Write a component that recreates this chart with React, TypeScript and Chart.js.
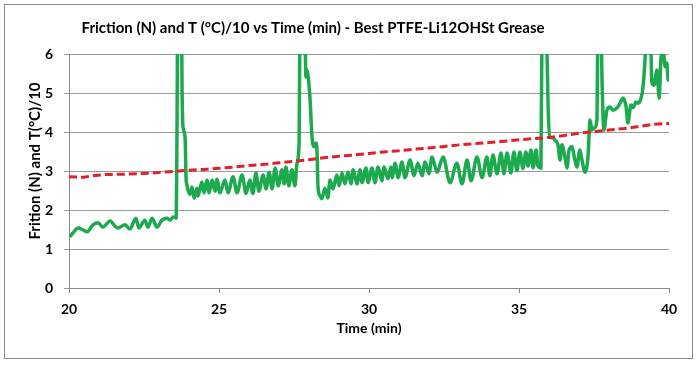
import React, { useEffect, useRef } from "react";
import { Chart, registerables } from "chart.js";

Chart.register(...registerables);

const chartTitle = "Friction (N) and T (°C)/10 vs Time (min) - Best PTFE-Li12OHSt Grease";
const xTitle = "Time (min)";
const yTitle = "Frition (N) and T(°C)/10";

// Friction (N) series
const frictionTime = [
  20.03, 20.13, 20.3, 20.47, 20.6, 20.8, 20.97, 21.13, 21.37, 21.53, 21.63, 21.87, 22.03, 22.23, 22.33, 22.53,
  22.63, 22.77, 22.93, 23.1, 23.27, 23.37, 23.47, 23.57, 23.6, 23.63, 23.73, 23.77, 23.8, 23.87, 23.9,
  23.93, 24.03, 24.1, 24.17, 24.27, 24.3, 24.43, 24.5, 24.6, 24.67, 24.77, 24.87, 24.93, 25.03, 25.2, 25.3,
  25.47, 25.6, 25.77, 25.9, 26.03, 26.13, 26.23, 26.33, 26.47, 26.57, 26.67, 26.77, 26.87, 26.97, 27.1, 27.17,
  27.23, 27.33, 27.43, 27.53, 27.6, 27.67, 27.7, 27.8, 27.87, 27.9, 27.93, 28.03, 28.1, 28.17, 28.23, 28.27, 28.3,
  28.37, 28.43, 28.53, 28.63, 28.7, 28.8, 28.93, 29.0, 29.1, 29.2, 29.3, 29.4, 29.47, 29.6, 29.7, 29.77, 29.9,
  29.97, 30.1, 30.2, 30.3, 30.43, 30.5, 30.63, 30.73, 30.77, 30.87, 30.97, 31.1, 31.2, 31.37, 31.5, 31.63,
  31.77, 31.87, 32.0, 32.1, 32.27, 32.47, 32.7, 32.93, 33.1, 33.27, 33.4, 33.6, 33.77, 33.93, 34.03, 34.13,
  34.27, 34.4, 34.5, 34.6, 34.73, 34.83, 34.93, 35.03, 35.13, 35.23, 35.3, 35.4, 35.47, 35.57, 35.63, 35.73,
  35.77, 35.87, 35.93, 35.97, 36.03, 36.13, 36.2, 36.3, 36.37, 36.43, 36.53, 36.6, 36.67, 36.77, 36.83, 36.93,
  37.03, 37.1, 37.2, 37.3, 37.37, 37.43, 37.5, 37.6, 37.63, 37.7, 37.77, 37.83, 37.93, 38.03, 38.13, 38.27,
  38.37, 38.47, 38.57, 38.63, 38.73, 38.8, 38.9, 38.97, 39.07, 39.13, 39.2, 39.27, 39.37, 39.43, 39.5, 39.6,
  39.67, 39.73, 39.8, 39.87, 39.93, 39.97, 40.0,
];
const frictionValue = [
  1.31, 1.41, 1.54, 1.49, 1.44, 1.62, 1.67, 1.56, 1.72, 1.59, 1.54, 1.62, 1.51, 1.79, 1.54, 1.74,
  1.56, 1.79, 1.56, 1.74, 1.79, 1.74, 1.82, 1.79, 4.0, 8.0, 8.5, 5.0, 4.13, 3.87, 2.85,
  2.64, 2.4, 2.59, 2.3, 2.56, 2.36, 2.72, 2.44, 2.77, 2.44, 2.77, 2.48, 2.79, 2.44, 2.77, 2.44,
  2.85, 2.44, 2.9, 2.42, 2.77, 2.42, 2.95, 2.48, 2.9, 2.54, 2.97, 2.54, 3.08, 2.62, 3.03, 2.67,
  3.1, 2.62, 3.03, 2.62, 3.2, 3.72, 7.0, 8.0, 6.3, 5.41, 5.59, 4.9, 3.87, 3.62, 3.72, 3.46, 2.59,
  2.36, 2.29, 2.56, 2.31, 2.77, 2.54, 2.9, 2.62, 2.95, 2.67, 2.97, 2.67, 3.03, 2.67, 3.03, 2.7, 3.08,
  2.7, 3.08, 2.7, 3.1, 2.75, 3.1, 2.8, 3.1, 2.83, 3.2, 2.83, 3.23, 2.83, 3.28, 2.88, 3.2,
  2.88, 3.23, 2.93, 3.36, 2.97, 3.36, 2.7, 3.2, 2.67, 3.28, 2.75, 3.36, 2.83, 3.36, 2.88, 3.41,
  2.93, 3.46, 2.93, 3.46, 2.95, 3.49, 3.01, 3.49, 3.06, 3.49, 3.13, 3.54, 3.08, 3.54, 3.13, 3.08,
  7.0, 8.0, 6.2, 4.64, 3.87, 3.85, 3.79, 3.67, 3.28, 3.67, 3.36, 3.08, 3.54, 3.62, 3.41, 3.1,
  3.54, 3.28, 2.97, 3.36, 4.31, 4.05, 4.1, 4.31, 7.0, 8.0, 5.26, 4.05, 4.56, 4.64, 4.56, 4.62,
  4.74, 4.87, 4.64, 4.23, 4.69, 4.62, 4.77, 4.74, 4.87, 5.13, 5.85, 7.0, 7.0, 5.26, 5.2, 5.59,
  4.87, 5.85, 6.2, 5.67, 5.77, 5.33, 5.6,
];

// Temperature (°C)/10 series
const tempTime = [
  20.0, 20.5, 20.8, 21.2, 22.0, 22.8, 23.5, 24.0, 24.5, 25.0, 25.5, 26.0, 26.5, 27.0, 27.5, 28.0, 28.5, 29.0,
  29.5, 30.0, 30.5, 31.0, 31.5, 32.0, 32.5, 33.0, 33.5, 34.0, 34.5, 35.0, 35.5, 36.0, 36.5, 37.0, 37.5, 38.0,
  38.5, 39.0, 39.5, 40.0,
];
const tempValue = [
  2.85, 2.84, 2.88, 2.91, 2.92, 2.95, 2.99, 3.02, 3.04, 3.07, 3.1, 3.14, 3.17, 3.21, 3.25, 3.29, 3.34, 3.38,
  3.41, 3.45, 3.49, 3.52, 3.56, 3.59, 3.63, 3.67, 3.7, 3.73, 3.76, 3.8, 3.83, 3.86, 3.91, 3.97, 4.01, 4.05,
  4.09, 4.14, 4.2, 4.22,
];

const FONT = "Lato, 'Open Sans', sans-serif";

const decorPlugin = {
  id: "decor",
  beforeDraw(chart: any) {
    const { ctx, width, height } = chart;
    ctx.save();
    ctx.fillStyle = "#ffffff";
    ctx.fillRect(0, 0, width, height);
    ctx.strokeStyle = "#8a8a8a";
    ctx.lineWidth = 1;
    ctx.strokeRect(4.5, 4.5, 688, 354);
    ctx.restore();
  },
  afterDraw(chart: any) {
    const { ctx, chartArea } = chart;
    ctx.save();
    ctx.fillStyle = "#000000";
    ctx.font = `bold 15px ${FONT}`;
    ctx.textAlign = "center";
    ctx.textBaseline = "middle";
    ctx.fillText(chartTitle, 313, 28);
    ctx.translate(35, (chartArea.top + chartArea.bottom) / 2 - 10);
    ctx.rotate(-Math.PI / 2);
    ctx.fillText(yTitle, 0, 0);
    ctx.restore();
  },
};

export default function App() {
  const ref = useRef<HTMLCanvasElement | null>(null);

  useEffect(() => {
    document.body.style.margin = "0";
    const canvas = ref.current!;
    const chart = new Chart(canvas, {
      type: "line",
      data: {
        datasets: [
          {
            label: "Friction (N)",
            data: frictionTime.map((t, i) => ({ x: t, y: frictionValue[i] })),
            borderColor: "#1daa4f",
            borderWidth: 3.5,
            pointRadius: 0,
            fill: false,
            cubicInterpolationMode: "monotone",
            order: 2,
          },
          {
            label: "T (°C)/10",
            data: tempTime.map((t, i) => ({ x: t, y: tempValue[i] })),
            borderColor: "#e0202a",
            borderWidth: 3,
            borderDash: [8, 4],
            pointRadius: 0,
            fill: false,
            order: 1,
          },
        ],
      },
      options: {
        responsive: false,
        animation: false,
        devicePixelRatio: 1,
        layout: { padding: { left: 0, top: 54, right: 29, bottom: 0 } },
        plugins: {
          legend: { display: false },
          tooltip: { enabled: false },
          title: { display: false },
        },
        scales: {
          x: {
            type: "linear",
            min: 20,
            max: 40,
            afterFit: (s: any) => {
              s.height = 79;
            },
            ticks: {
              stepSize: 5,
              padding: 8,
              color: "#000",
              font: { family: FONT, size: 14, weight: "bold" },
            },
            grid: {
              drawOnChartArea: false,
              drawTicks: true,
              tickLength: 5,
              color: "#8a8a8a",
            },
            border: { color: "#8a8a8a" },
            title: {
              display: true,
              text: xTitle,
              color: "#000",
              font: { family: FONT, size: 14, weight: "bold" },
              padding: { top: 0, bottom: 30 },
            },
          },
          y: {
            type: "linear",
            min: 0,
            max: 6,
            afterFit: (s: any) => {
              s.width = 69;
            },
            ticks: {
              stepSize: 1,
              padding: 11,
              color: "#000",
              font: { family: FONT, size: 14, weight: "bold" },
            },
            grid: {
              color: "#9a9a9a",
              tickLength: 5,
              drawTicks: true,
            },
            border: { color: "#8a8a8a" },
          },
        },
      },
      plugins: [decorPlugin],
    } as any);
    return () => chart.destroy();
  }, []);

  return (
    <div style={{ position: "absolute", left: 0, top: 0, width: 698, height: 367 }}>
      <canvas ref={ref} width={698} height={367} style={{ width: 698, height: 367, display: "block" }} />
    </div>
  );
}
